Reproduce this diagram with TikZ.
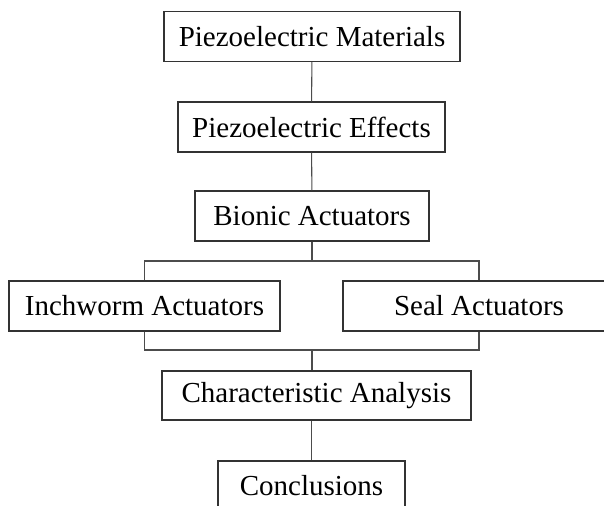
\documentclass[tikz,border=0pt]{standalone}
\usepackage{fontspec}
\setmainfont{Liberation Serif}
\begin{document}
\begin{tikzpicture}[font=\fontsize{16.5}{20}\selectfont]

    % ============================
    % Frame of the picture
    % ============================

    \useasboundingbox (0,0) rectangle (12.08,-10.12);

    \tikzstyle{blk}=[rectangle,draw=black!80,line width=0.7pt,fill=white,
            inner sep=2pt,minimum height=1cm]
    \tikzstyle{lnk}=[draw=black!70,line width=0.6pt]

    % ============================
    % Chain of boxes
    % ============================

    \node[blk,minimum width=5.92cm] (mat) at (6.24,-0.73) {Piezoelectric Materials};
    \node[blk,minimum width=5.34cm] (eff) at (6.23,-2.54) {Piezoelectric Effects};
    \node[blk,minimum width=4.68cm] (bio) at (6.24,-4.32) {Bionic Actuators};
    \node[blk,minimum width=5.42cm] (inch) at (2.89,-6.12) {Inchworm Actuators};
    \node[blk,minimum width=5.44cm] (seal) at (9.58,-6.12) {Seal Actuators};
    \node[blk,minimum width=6.18cm,minimum height=0.98cm] (chr) at (6.33,-7.91) {Characteristic Analysis};
    \node[blk,minimum width=3.74cm] (con) at (6.23,-9.72) {Conclusions};

    % split and merge points
    \coordinate (tsplit) at (6.24,-5.22);
    \coordinate (bsplit) at (6.24,-7.00);

    % ============================
    % Connectors
    % ============================

    \draw[lnk] (mat) -- (eff);
    \draw[lnk] (eff) -- (bio);
    \draw[lnk] (bio) -- (tsplit);
    \draw[lnk] (inch.north) |- (tsplit) -| (seal.north);
    \draw[lnk] (inch.south) |- (bsplit) -| (seal.south);
    \draw[lnk] (bsplit) -- (bsplit |- chr.north);
    \draw[lnk] (con.north |- chr.south) -- (con.north);

\end{tikzpicture}
\end{document}
